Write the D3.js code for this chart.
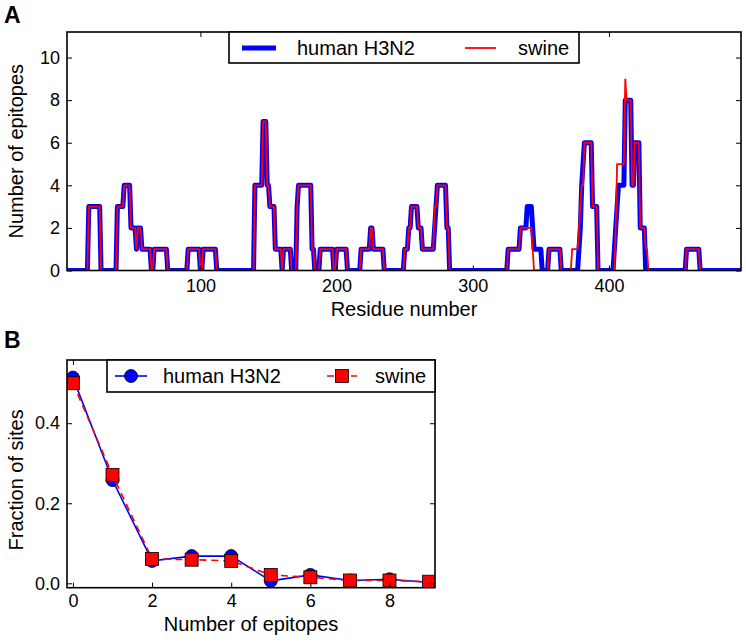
<!DOCTYPE html>
<html>
<head>
<meta charset="utf-8">
<script src="https://cdn.jsdelivr.net/npm/d3@7/dist/d3.min.js"></script>
<style>
  html, body { margin: 0; padding: 0; background: #fff; }
  svg { display: block; font-family: "Liberation Sans", Arial, Helvetica, sans-serif; }
</style>
</head>
<body>
<svg id="chart" width="746" height="642"></svg>
<script>
// ---------- Panel A data: runs of constant epitope count (start residue, value) ----------
const residueRange = [2, 497];
const humanRunStart = [2, 18, 27, 39, 44, 49, 53, 54, 57, 64, 66, 76, 91, 100, 102, 112,
  140, 146, 149, 151, 155, 160, 161, 167, 171, 172, 182, 184, 188, 198, 200, 208,
  218, 225, 227, 235, 250, 253, 255, 260, 263, 272, 273, 274, 281, 283,
  326, 335, 340, 344, 345, 351, 356, 365, 378, 379, 380, 381, 382, 388, 392,
  404, 405, 406, 407, 412, 417, 419, 423, 427, 457, 467];
const humanRunValue = [0, 3, 0, 3, 4, 2, 1, 2, 1, 0, 1, 0, 1, 0, 1, 0,
  4, 7, 4, 3, 1, 0, 1, 0, 3, 4, 1, 0, 1, 0, 1, 0,
  1, 2, 1, 0, 1, 2, 3, 2, 1, 2, 3, 4, 2, 0,
  1, 2, 3, 2, 1, 0, 1, 0, 1, 2, 4, 5, 6, 3, 0,
  1, 2, 3, 4, 8, 4, 6, 2, 0, 1, 0];
const swineRunStart = [2, 18, 27, 39, 44, 49, 53, 54, 57, 64, 66, 76, 91, 100, 102, 112,
  140, 146, 149, 151, 155, 160, 161, 167, 171, 172, 182, 184, 188, 198, 200, 208,
  218, 225, 227, 235, 250, 253, 255, 260, 263, 272, 274, 281, 283,
  326, 335, 344, 345, 356, 365, 373, 378, 379, 380, 382, 388, 392,
  405, 406, 412, 413, 417, 419, 423, 427, 429, 457, 467];
const swineRunValue = [0, 3, 0, 3, 4, 2, 1, 2, 1, 0, 1, 0, 1, 0, 1, 0,
  4, 7, 4, 3, 1, 0, 1, 0, 3, 4, 1, 0, 1, 0, 1, 0,
  1, 2, 1, 0, 1, 2, 3, 2, 1, 3, 4, 2, 0,
  1, 2, 1, 0, 1, 0, 1, 2, 3, 4, 6, 3, 0,
  2, 5, 9, 8, 4, 6, 2, 1, 0, 1, 0];
const yTicksA = [0, 2, 4, 6, 8, 10];
const xTicksA = [100, 200, 300, 400];

// ---------- Panel B data ----------
const epitopeCounts = [0, 1, 2, 3, 4, 5, 6, 7, 8, 9];
const humanFraction = [0.514, 0.258, 0.056, 0.068, 0.068, 0.006, 0.021, 0.007, 0.010, 0.002];
const swineFraction = [0.500, 0.271, 0.061, 0.059, 0.056, 0.021, 0.015, 0.007, 0.007, 0.004];
const yTicksB = [0.0, 0.2, 0.4];
const xTicksB = [0, 2, 4, 6, 8];

const seriesNames = ["human H3N2", "swine"];
const BLUE = "#0000ff", RED = "#ff0000";

const svg = d3.select("#chart");

function runsToPoints(starts, values) {
  const pts = [];
  starts.forEach((s, i) => {
    const e = i < starts.length - 1 ? starts[i + 1] - 1 : residueRange[1];
    pts.push([s, values[i]]);
    if (e > s) pts.push([e, values[i]]);
  });
  return pts;
}

function frame(g, x0, y0, x1, y1) {
  g.append("rect").attr("x", x0).attr("y", y0).attr("width", x1 - x0).attr("height", y1 - y0)
    .attr("fill", "none").attr("stroke", "#000").attr("stroke-width", 1.6);
}

// ================= Panel A =================
const A = { l: 67, r: 741, t: 32, b: 270.5 };
const xA = d3.scaleLinear().domain(residueRange).range([A.l, A.r]);
const yA = d3.scaleLinear().domain([0, 11.2]).range([A.b, A.t]);
const gA = svg.append("g");

gA.append("clipPath").attr("id", "clipA").append("rect")
  .attr("x", A.l).attr("y", A.t).attr("width", A.r - A.l).attr("height", A.b - A.t);

const lineA = d3.line().x(d => xA(d[0])).y(d => yA(d[1]));
const plotA = gA.append("g").attr("clip-path", "url(#clipA)");
plotA.append("path").datum(runsToPoints(humanRunStart, humanRunValue))
  .attr("d", lineA).attr("fill", "none").attr("stroke", BLUE).attr("stroke-width", 5)
  .attr("stroke-linejoin", "round");
plotA.append("path").datum(runsToPoints(swineRunStart, swineRunValue))
  .attr("d", lineA).attr("fill", "none").attr("stroke", RED).attr("stroke-width", 1.8)
  .attr("stroke-linejoin", "miter");

function styleAxis(g, size) {
  g.select(".domain").remove();
  g.selectAll(".tick line").attr("stroke", "#000").attr("stroke-width", 1);
  g.selectAll(".tick text").attr("font-size", size).attr("fill", "#000")
    .attr("font-family", "'Liberation Sans', Arial, sans-serif");
}

// axes A
gA.append("g").attr("transform", `translate(0,${A.b})`)
  .call(d3.axisBottom(xA).tickValues(xTicksA).tickSizeInner(-5).tickSizeOuter(0).tickPadding(9))
  .call(g => styleAxis(g, 18));
gA.append("g").attr("transform", `translate(0,${A.t})`)
  .call(d3.axisTop(xA).tickValues(xTicksA).tickSizeInner(-5).tickSizeOuter(0).tickFormat(""))
  .call(g => styleAxis(g, 18));
gA.append("g").attr("transform", `translate(${A.l},0)`)
  .call(d3.axisLeft(yA).tickValues(yTicksA).tickSizeInner(-5).tickSizeOuter(0).tickPadding(7))
  .call(g => styleAxis(g, 18));
gA.append("g").attr("transform", `translate(${A.r},0)`)
  .call(d3.axisRight(yA).tickValues(yTicksA).tickSizeInner(-5).tickSizeOuter(0).tickFormat(""))
  .call(g => styleAxis(g, 18));
frame(gA, A.l, A.t, A.r, A.b);

gA.append("text").attr("x", (A.l + A.r) / 2).attr("y", 316).attr("text-anchor", "middle")
  .attr("font-size", 20).text("Residue number");
gA.append("text").attr("transform", `translate(23,${(A.t + A.b) / 2}) rotate(-90)`)
  .attr("text-anchor", "middle").attr("font-size", 20).text("Number of epitopes");
gA.append("text").attr("x", 4).attr("y", 23).attr("font-size", 23).attr("font-weight", "bold").text("A");

// legend A
const legA = gA.append("g");
legA.append("rect").attr("x", 229).attr("y", A.t).attr("width", 350).attr("height", 31)
  .attr("fill", "#fff").attr("stroke", "#000").attr("stroke-width", 1.6);
legA.append("line").attr("x1", 242).attr("x2", 276).attr("y1", 48).attr("y2", 48)
  .attr("stroke", BLUE).attr("stroke-width", 5);
legA.append("text").attr("x", 297).attr("y", 55).attr("font-size", 20).text(seriesNames[0]);
legA.append("line").attr("x1", 465).attr("x2", 496).attr("y1", 48).attr("y2", 48)
  .attr("stroke", RED).attr("stroke-width", 1.8);
legA.append("text").attr("x", 518).attr("y", 55).attr("font-size", 20).text(seriesNames[1]);

// ================= Panel B =================
const B = { l: 67, r: 435, t: 360, b: 587.7 };
const xB = d3.scaleLinear().domain([-0.15, 9.15]).range([B.l, B.r]);
const yB = d3.scaleLinear().domain([-0.011, 0.558]).range([B.b, B.t]);
const gB = svg.append("g");

gB.append("clipPath").attr("id", "clipB").append("rect")
  .attr("x", B.l).attr("y", B.t).attr("width", B.r - B.l).attr("height", B.b - B.t);
const plotB = gB.append("g").attr("clip-path", "url(#clipB)");

const lineB = d3.line().x((d, i) => xB(epitopeCounts[i])).y(d => yB(d));
plotB.append("path").datum(humanFraction).attr("d", lineB).attr("fill", "none")
  .attr("stroke", BLUE).attr("stroke-width", 1.6);
plotB.selectAll("circle.h").data(humanFraction).enter().append("circle")
  .attr("cx", (d, i) => xB(epitopeCounts[i])).attr("cy", d => yB(d)).attr("r", 6.5)
  .attr("fill", BLUE).attr("stroke", "#000").attr("stroke-width", 0.8);
plotB.append("path").datum(swineFraction).attr("d", lineB).attr("fill", "none")
  .attr("stroke", RED).attr("stroke-width", 1.6).attr("stroke-dasharray", "7,5");
plotB.selectAll("rect.s").data(swineFraction).enter().append("rect")
  .attr("x", (d, i) => xB(epitopeCounts[i]) - 6.5).attr("y", d => yB(d) - 6.5)
  .attr("width", 13).attr("height", 13)
  .attr("fill", RED).attr("stroke", "#000").attr("stroke-width", 0.8);

gB.append("g").attr("transform", `translate(0,${B.b})`)
  .call(d3.axisBottom(xB).tickValues(xTicksB).tickSizeInner(-5).tickSizeOuter(0).tickPadding(7))
  .call(g => styleAxis(g, 18));
gB.append("g").attr("transform", `translate(0,${B.t})`)
  .call(d3.axisTop(xB).tickValues(xTicksB).tickSizeInner(-5).tickSizeOuter(0).tickFormat(""))
  .call(g => styleAxis(g, 18));
gB.append("g").attr("transform", `translate(${B.l},0)`)
  .call(d3.axisLeft(yB).tickValues(yTicksB).tickSizeInner(-5).tickSizeOuter(0).tickPadding(7)
    .tickFormat(d3.format(".1f")))
  .call(g => styleAxis(g, 18));
gB.append("g").attr("transform", `translate(${B.r},0)`)
  .call(d3.axisRight(yB).tickValues(yTicksB).tickSizeInner(-5).tickSizeOuter(0).tickFormat(""))
  .call(g => styleAxis(g, 18));
frame(gB, B.l, B.t, B.r, B.b);

gB.append("text").attr("x", (B.l + B.r) / 2).attr("y", 631).attr("text-anchor", "middle")
  .attr("font-size", 20).text("Number of epitopes");
gB.append("text").attr("transform", `translate(23,${(B.t + B.b) / 2 + 6}) rotate(-90)`)
  .attr("text-anchor", "middle").attr("font-size", 20).text("Fraction of sites");
gB.append("text").attr("x", 4).attr("y", 348).attr("font-size", 23).attr("font-weight", "bold").text("B");

// legend B
const legB = gB.append("g");
legB.append("rect").attr("x", 107).attr("y", B.t).attr("width", B.r - 107).attr("height", 32)
  .attr("fill", "#fff").attr("stroke", "#000").attr("stroke-width", 1.6);
legB.append("line").attr("x1", 115).attr("x2", 147).attr("y1", 376).attr("y2", 376)
  .attr("stroke", BLUE).attr("stroke-width", 1.6);
legB.append("circle").attr("cx", 131).attr("cy", 376).attr("r", 6.5)
  .attr("fill", BLUE).attr("stroke", "#000").attr("stroke-width", 0.8);
legB.append("text").attr("x", 163).attr("y", 383).attr("font-size", 20).text(seriesNames[0]);
legB.append("line").attr("x1", 327).attr("x2", 357).attr("y1", 376).attr("y2", 376)
  .attr("stroke", RED).attr("stroke-width", 1.6).attr("stroke-dasharray", "7,5");
legB.append("rect").attr("x", 335.5).attr("y", 369.5).attr("width", 13).attr("height", 13)
  .attr("fill", RED).attr("stroke", "#000").attr("stroke-width", 0.8);
legB.append("text").attr("x", 375).attr("y", 383).attr("font-size", 20).text(seriesNames[1]);
</script>
</body>
</html>
